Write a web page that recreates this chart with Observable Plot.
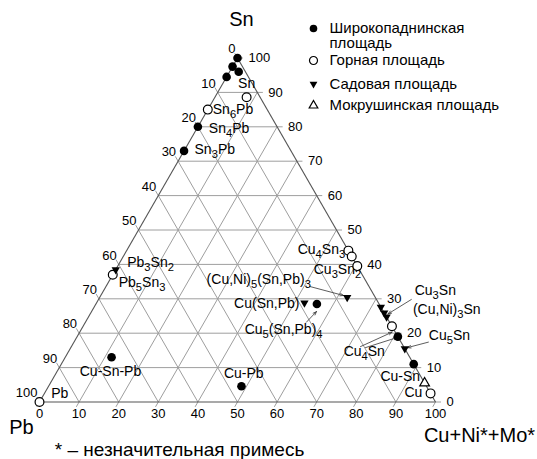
<!DOCTYPE html>
<html><head><meta charset="utf-8">
<script src="https://cdn.jsdelivr.net/npm/d3@7"></script>
<script src="https://cdn.jsdelivr.net/npm/@observablehq/plot@0.6"></script>
<style>body{margin:0;background:#fff;} svg{display:block;}</style>
</head><body><div id="chart"></div>
<script>
const FONT = '"Liberation Sans", Arial, Helvetica, sans-serif';

// ---- data (composition, %: Cu+Ni+Mo and Sn; Pb = 100 - Cu - Sn) ----
const groups = ["Широкопаднинская площадь", "Горная площадь", "Садовая площадь", "Мокрушинская площадь"];
const shirCu = [0, 0, 2.3, 0, 0, 0, 11.7, 48.7, 55.8, 81, 89];
const shirSn = [100, 97.5, 96, 94.5, 80, 73, 13, 4.6, 28.5, 19, 11];
const gorCu  = [8, 0, 0, 0, 56, 57.7, 60.5, 78, 97.5];
const gorSn  = [88.6, 85, 37, 0, 44, 42.3, 39.5, 22, 2.5];
const sadCu  = [0, 52.5, 62.5, 72.4, 74.1, 75.3, 84.5];
const sadSn  = [38.5, 28.8, 30.4, 27.6, 25.9, 24.7, 15.5];
const mokCu  = [94.5];
const mokSn  = [5.5];
const tickValues = [0, 10, 20, 30, 40, 50, 60, 70, 80, 90, 100];

// phase labels (composition where label sits)
const labelText = ["Sn","Sn_6Pb","Sn_4Pb","Sn_3Pb","Pb_3Sn_2","Pb_5Sn_3","Pb","Cu-Sn-Pb","Cu-Pb","Cu(Sn,Pb)","Cu_5(Sn,Pb)_4","(Cu,Ni)_5(Sn,Pb)_3","Cu_4Sn_3","Cu_3Sn_2","Cu_3Sn","(Cu,Ni)_3Sn","Cu_5Sn","Cu_4Sn","Cu-Sn","Cu"];
const labelCu = [6.0, 1.2, 2.95, 2.5, 1.85, 2.6, 1.75, 13.45, 47.4, 51.4, 51.1, 24.4, 43.05, 50.0, 78.6, 80.9, 88.65, 69.45, 82.4, 90.7];
const labelSn = [92.6, 85.1, 79.6, 73.3, 40.6, 34.8, 2.4, 8.95, 8.37, 28.5, 21.1, 35.6, 44.3, 38.5, 32.3, 26.8, 19.3, 14.7, 7.4, 2.9];
const labelAnchor = ["middle","start","start","start","start","start","start","middle","middle","end","middle","start","start","start","start","start","start","start","start","start"];
// leader arrows (tail composition -> head composition)
const arrowTailCu = [51.4, 55.8, 79.0, 89.5, 73.0, 74.4];
const arrowTailSn = [33.6, 23.2, 29.8, 17.4, 16.1, 15.8];
const arrowHeadCu = [61.3, 56.8, 75.2, 85.0, 78.9, 80.96];
const arrowHeadSn = [30.96, 26.3, 25.6, 15.8, 20.3, 18.75];

// ---- build tables ----
const X = (cu, sn) => cu + sn / 2;
const pts = (cu, sn) => cu.map((c, i) => ({x: X(c, sn[i]), y: sn[i]}));
const shir = pts(shirCu, shirSn), gor = pts(gorCu, gorSn), sad = pts(sadCu, sadSn), mok = pts(mokCu, mokSn);

const T = 1.4;
const seg = (c1, s1, c2, s2) => ({x1: X(c1, s1), y1: s1, x2: X(c2, s2), y2: s2});
const grid = [];
for (const v of tickValues) {
  if (v > 0 && v < 100) {
    grid.push(seg(0, v, 100 - v + T, v));        // Sn = v
    grid.push(seg(v, -T, v, 100 - v));            // Cu = v
    grid.push(seg(-T, 100 - v + T, 100 - v, 0));  // Pb = v
  } else {
    grid.push(seg(100 - v, v, 100 - v + T, v));
    grid.push(seg(v, -T, v, 0));
    grid.push(seg(-T, 100 - v + T, 0, 100 - v));
  }
}
const edges = [seg(0,0,100,0), seg(100,0,0,100), seg(0,100,0,0)];
const labels = labelText.map((t, i) => ({text: t, x: X(labelCu[i], labelSn[i]), y: labelSn[i], anchor: labelAnchor[i]}));
const arrows = arrowTailCu.map((c, i) => seg(c, arrowTailSn[i], arrowHeadCu[i], arrowHeadSn[i]));

const legendMarks = [];
const legSym = [
  {dy: 28, fill: "black", stroke: "none", symbol: "circle", r: 3.8, rotate: 0},
  {dy: 60, fill: "white", stroke: "black", symbol: "circle", r: 4, rotate: 0},
  {dy: 83.5, fill: "black", stroke: "none", symbol: "triangle", r: 2.9, rotate: 180},
  {dy: 105, fill: "white", stroke: "black", symbol: "triangle", r: 3.2, rotate: 0}
];
legSym.forEach((s, i) => {
  legendMarks.push(Plot.dot([0], {frameAnchor: "top-left", dx: 313, dy: s.dy, r: s.r, symbol: s.symbol, fill: s.fill, stroke: s.stroke, strokeWidth: 1.2, rotate: s.rotate}));
});
const legLines = [["Широкопаднинская", 27.5], ["площадь", 42.5], [groups[1], 60], [groups[2], 83.5], [groups[3], 105]];
legLines.forEach(([t, dy]) => {
  legendMarks.push(Plot.text([t], {frameAnchor: "top-left", dx: 329, dy, text: d => d, textAnchor: "start", lineAnchor: "middle", fontSize: 15, fill: "black"}));
});

const textBy = (anchor, extra) => Plot.text(labels.filter(d => d.anchor === anchor), {x: "x", y: "y", text: "text", textAnchor: anchor, fontSize: 14, fill: "black", ...extra});
const title = (t, dx, dy, size) => Plot.text([t], {frameAnchor: "top-left", dx, dy, text: d => d, fontSize: size, textAnchor: "middle", lineAnchor: "middle", fill: "black"});

const chart = Plot.plot({
  width: 537, height: 459,
  marginTop: 0, marginBottom: 0, marginLeft: 0, marginRight: 0,
  x: {domain: [0, 100], range: [39, 435], axis: null},
  y: {domain: [0, 100], range: [401.5, 57.5], axis: null},
  style: {fontFamily: FONT, fontSize: "13px", background: "white", color: "black", overflow: "visible"},
  marks: [
    Plot.link(grid, {x1: "x1", y1: "y1", x2: "x2", y2: "y2", stroke: "#9e9e9e", strokeWidth: 1}),
    Plot.link(edges, {x1: "x1", y1: "y1", x2: "x2", y2: "y2", stroke: "#555", strokeWidth: 1.1}),
    // tick labels
    Plot.text(tickValues, {x: d => d, y: 0, text: d => String(d), dy: 12, textAnchor: "middle", fontSize: 13, fill: "black"}),
    Plot.text(tickValues, {x: d => X(100 - d, d), y: d => d, text: d => String(d), dx: 11, textAnchor: "start", fontSize: 13, fill: "black"}),
    Plot.text(tickValues, {x: d => X(0, 100 - d), y: d => 100 - d, text: d => String(d), dx: -2, dy: -9, textAnchor: "end", fontSize: 13, fill: "black"}),
    // leader arrows
    Plot.arrow(arrows, {x1: "x1", y1: "y1", x2: "x2", y2: "y2", stroke: "#333", strokeWidth: 0.8, headLength: 7, headAngle: 40}),
    textBy("start"), textBy("middle"), textBy("end"),
    // data points
    Plot.dot(shir, {x: "x", y: "y", r: 4.3, fill: "black", stroke: "none"}),
    Plot.dot(gor, {x: "x", y: "y", r: 4.4, fill: "white", stroke: "black", strokeWidth: 1.2}),
    Plot.dot(sad, {x: "x", y: "y", r: 3.1, symbol: "triangle", rotate: 180, fill: "black", stroke: "none"}),
    Plot.dot(mok, {x: "x", y: "y", r: 3.6, symbol: "triangle", fill: "white", stroke: "black", strokeWidth: 1.2}),
    // axis titles & note
    title("Sn", 241, 19, 20),
    title("Pb", 21, 427, 20),
    title("Cu+Ni*+Mo*", 479, 435, 20),
    title("* – незначительная примесь", 179, 449, 19),
    ...legendMarks
  ]
});

// subscripts: "_n" -> lowered smaller digits
const NS = "http://www.w3.org/2000/svg";
chart.querySelectorAll("text").forEach(t => {
  const s = t.textContent;
  if (!s.includes("_")) return;
  while (t.firstChild) t.removeChild(t.firstChild);
  const parts = s.split(/_(\d)/);
  let lowered = false;
  parts.forEach((p, i) => {
    if (!p) return;
    const ts = document.createElementNS(NS, "tspan");
    ts.textContent = p;
    if (i % 2 === 1) { ts.setAttribute("font-size", "0.8em"); ts.setAttribute("dy", "4"); lowered = true; }
    else if (lowered) { ts.setAttribute("dy", "-4"); lowered = false; }
    t.appendChild(ts);
  });
});
document.getElementById("chart").appendChild(chart);
</script>
</body></html>
